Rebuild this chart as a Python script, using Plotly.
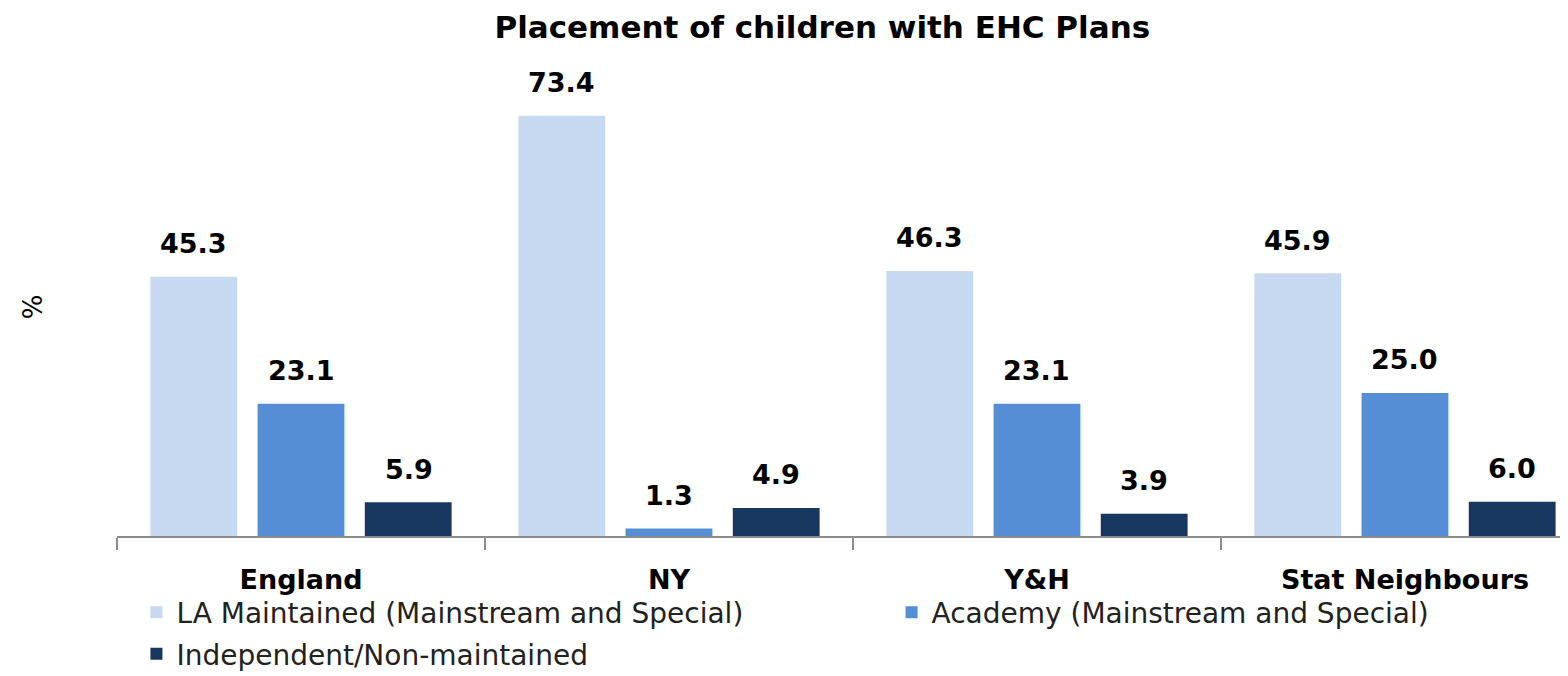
import plotly.graph_objects as go

# =====================================================
# Data
# =====================================================

categories = ["England", "NY", "Y&H", "Stat Neighbours"]

series_names = [
    "LA Maintained (Mainstream and Special)",
    "Academy (Mainstream and Special)",
    "Independent/Non-maintained",
]

la_maintained = [45.3, 73.4, 46.3, 45.9]
academy = [23.1, 1.3, 23.1, 25.0]
independent = [5.9, 4.9, 3.9, 6.0]

colors = ["#C6D9F1", "#558ED5", "#17375E"]

FONT = "DejaVu Sans"

# =====================================================
# Figure
# =====================================================

fig = go.Figure()

# LA + Independent stack in the left legend, Academy sits in a second one
legend_ids = ["legend", "legend2", "legend"]

all_values = [la_maintained, academy, independent]
for i, (name, values, color) in enumerate(zip(series_names, all_values, colors)):
    fig.add_trace(
        go.Bar(
            x=categories,
            y=values,
            name=name,
            legend=legend_ids[i],
            legendgroup=f"g{i}",
            marker=dict(color=color, line=dict(width=0)),
        )
    )

# value labels, lifted well above the bar tops like the original
offsets = [-107.5, 0, 107.5]
for values, dx in zip(all_values, offsets):
    for cat, v in zip(categories, values):
        fig.add_annotation(
            x=cat,
            y=v,
            text=f"{v:.1f}",
            showarrow=False,
            xshift=dx,
            yshift=33,
            font=dict(family=FONT, size=27, color="black", weight="bold"),
        )

# =====================================================
# Layout
# (page body adds an 8px margin, so the figure is 8px smaller)
# =====================================================

legend_font = dict(family=FONT, size=28, color="#222222")

fig.update_layout(
    width=1560,
    height=668,
    paper_bgcolor="white",
    plot_bgcolor="white",
    barmode="group",
    bargap=0.126,
    bargroupgap=0.19,
    margin=dict(l=109, r=0, t=70, b=140, autoexpand=False),
    title=dict(
        text="Placement of children with EHC Plans",
        x=0.522,
        xanchor="center",
        y=0.972,
        yanchor="middle",
        font=dict(family=FONT, size=31, color="black", weight="bold"),
    ),
    legend=dict(
        orientation="v",
        x=0.0134,
        xanchor="left",
        y=-0.1125,
        yanchor="top",
        font=legend_font,
        tracegroupgap=2,
        bgcolor="rgba(0,0,0,0)",
    ),
    legend2=dict(
        orientation="v",
        x=0.5338,
        xanchor="left",
        y=-0.1125,
        yanchor="top",
        font=legend_font,
        bgcolor="rgba(0,0,0,0)",
    ),
    showlegend=True,
)

fig.update_xaxes(
    type="category",
    range=[-0.5, 3.443],
    showline=True,
    linecolor="#8c8c8c",
    linewidth=2,
    ticks="outside",
    tickson="boundaries",
    ticklen=12,
    tickcolor="#8c8c8c",
    tickwidth=2,
    ticklabelstandoff=19,
    tickfont=dict(family=FONT, size=27, color="black", weight="bold"),
    showgrid=False,
)

fig.update_yaxes(
    range=[0, 80],
    showticklabels=False,
    showgrid=False,
    zeroline=False,
    showline=False,
    title=dict(
        text="%",
        standoff=65,
        font=dict(family=FONT, size=26, color="black"),
    ),
)

fig.write_html("out.html")
